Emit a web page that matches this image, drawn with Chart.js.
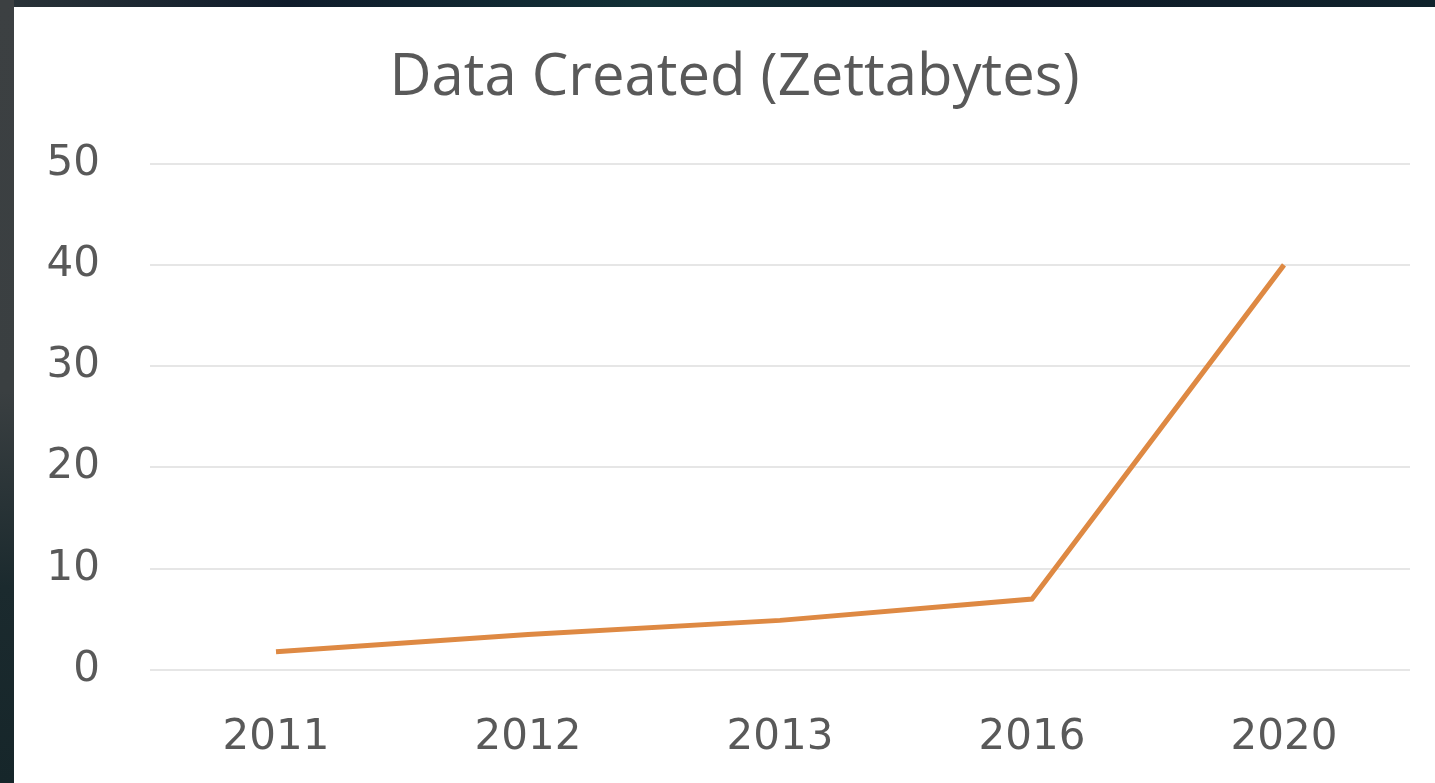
<!DOCTYPE html>
<html>
<head>
<meta charset="utf-8">
<script src="https://cdn.jsdelivr.net/npm/chart.js@4/dist/chart.umd.min.js"></script>
<style>
  html, body { margin: 0; padding: 0; }
  body { width: 1435px; height: 783px; overflow: hidden; background: #3a3e40; position: relative; }
  #topstrip { position: absolute; left: 0; top: 0; width: 1435px; height: 7px; background: linear-gradient(90deg, #2a3338 0%, #0f1c2b 20%, #123036 45%, #0e1a28 70%, #10232c 100%); }
  #leftstrip { position: absolute; left: 0; top: 0; width: 14px; height: 783px; background: linear-gradient(180deg, #3c4042 0%, #3a3f41 50%, #1b2a2e 75%, #16262a 100%); }
  #wrap { position: absolute; left: 14px; top: 7px; width: 1421px; height: 776px; background: #ffffff; }
</style>
</head>
<body>
<div id="topstrip"></div>
<div id="leftstrip"></div>
<div id="wrap"><canvas id="c" width="1421" height="776"></canvas></div>
<script>
const chartTitle = "Data Created (Zettabytes)";
const categories = ["2011", "2012", "2013", "2016", "2020"];
const zettabytes = [1.8, 3.5, 4.9, 7.0, 40];
const yTicks = [0, 10, 20, 30, 40, 50];

const textColor = "#595959";
const tickFont = "'DejaVu Sans', Verdana, sans-serif";

new Chart(document.getElementById("c"), {
  type: "line",
  data: {
    labels: categories,
    datasets: [{
      label: "Data Created",
      data: zettabytes,
      borderColor: "#DE8943",
      backgroundColor: "#DE8943",
      borderWidth: 5,
      pointRadius: 0,
      tension: 0,
      fill: false
    }]
  },
  options: {
    responsive: false,
    animation: false,
    layout: { padding: { left: 20, right: 0, top: 0, bottom: 0 } },
    plugins: {
      legend: { display: false },
      tooltip: { enabled: false },
      title: {
        display: true,
        text: chartTitle,
        color: textColor,
        font: { family: "'Open Sans', Lato, sans-serif", size: 58, weight: "normal" },
        padding: { top: 37, bottom: 50 }
      }
    },
    scales: {
      x: {
        offset: true,
        grid: { display: false, drawTicks: false },
        border: { display: false },
        ticks: { color: textColor, font: { family: tickFont, size: 42 }, padding: 43, maxRotation: 0 },
        afterFit: (s) => { s.height = 113; }
      },
      y: {
        min: 0,
        max: 50,
        afterBuildTicks: (s) => { s.ticks = yTicks.map(v => ({ value: v })); },
        grid: { color: "#e6e6e6", lineWidth: 2, drawTicks: false },
        border: { display: false },
        ticks: { color: textColor, font: { family: tickFont, size: 42 }, padding: 50 },
        afterFit: (s) => { s.width = 116; }
      },
      yRightSpace: {
        position: "right",
        display: true,
        grid: { display: false, drawTicks: false },
        border: { display: false },
        ticks: { display: false },
        afterFit: (s) => { s.width = 25; }
      }
    }
  }
});
</script>
</body>
</html>
